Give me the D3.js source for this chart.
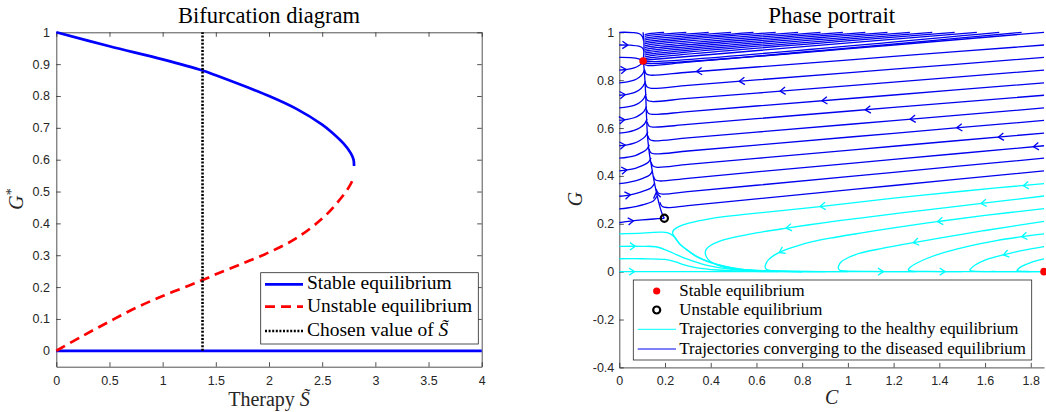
<!DOCTYPE html>
<html><head><meta charset="utf-8">
<script src="https://cdn.jsdelivr.net/npm/d3@7"></script>
<style>body{margin:0;background:#fff}svg{display:block}</style>
</head><body>
<svg id="c" width="1046" height="412"></svg>
<script>
// ---------------- DATA: bifurcation diagram ----------------
const leftXDomain = [0, 4];
const leftYDomain = [-0.05, 1];
const leftXTicks = [0, 0.5, 1, 1.5, 2, 2.5, 3, 3.5, 4];
const leftYTicks = [0, 0.1, 0.2, 0.3, 0.4, 0.5, 0.6, 0.7, 0.8, 0.9, 1];
const stableUpperS = [0, 0.5, 1.0, 1.375, 1.5, 2.0, 2.25, 2.5, 2.6, 2.7, 2.77, 2.795, 2.8];
const stableUpperG = [1.0, 0.956, 0.915, 0.88, 0.865, 0.80, 0.761, 0.71, 0.683, 0.651, 0.62, 0.60, 0.58];
const unstableS = [0, 0.25, 0.5, 0.75, 1.0, 1.25, 1.375, 1.5, 1.75, 2.0, 2.25, 2.5, 2.65, 2.75, 2.8];
const unstableG = [0, 0.047, 0.092, 0.135, 0.172, 0.205, 0.222, 0.24, 0.274, 0.309, 0.352, 0.415, 0.468, 0.513, 0.545];
const stableZeroS = [0, 4];
const stableZeroG = [0, 0];
const chosenS = 1.375;
const chosenG = [0, 1];
const leftLegendLabels = ["Stable equilibrium", "Unstable equilibrium", "Chosen value of "];

// ---------------- DATA: phase portrait ----------------
const rightXDomain = [0, 1.858];
const rightYDomain = [-0.4, 1];
const rightXTicks = [0, 0.2, 0.4, 0.6, 0.8, 1, 1.2, 1.4, 1.6, 1.8];
const rightYTicks = [-0.4, -0.2, 0, 0.2, 0.4, 0.6, 0.8, 1];
const stableEq = [[0.104, 0.88], [1.858, 0]];
const unstableEq = [[0.197, 0.223]];
const rightLegendLabels = ["Stable equilibrium", "Unstable equilibrium",
  "Trajectories converging to the healthy equilibrium",
  "Trajectories converging to the diseased equilibrium"];

// trajectories converging to (0.104, 0.88)
const blueLeft = [
  [[0,0.205],[0.05,0.211],[0.1,0.216],[0.15,0.22],[0.197,0.223]],
  [[0,0.262],[0.035,0.266],[0.07,0.272],[0.11,0.281],[0.15,0.296],[0.164,0.315]],
  [[0,0.315],[0.035,0.319],[0.07,0.326],[0.105,0.336],[0.14,0.351],[0.155,0.37]],
  [[0,0.368],[0.035,0.372],[0.07,0.379],[0.1,0.389],[0.133,0.404],[0.146,0.422]],
  [[0,0.421],[0.035,0.425],[0.07,0.432],[0.098,0.442],[0.127,0.457],[0.139,0.476]],
  [[0,0.474],[0.035,0.478],[0.07,0.485],[0.095,0.496],[0.12,0.511],[0.131,0.53]],
  [[0,0.526],[0.035,0.53],[0.065,0.537],[0.09,0.548],[0.113,0.564],[0.125,0.585]],
  [[0,0.579],[0.035,0.583],[0.065,0.59],[0.09,0.601],[0.11,0.617],[0.121,0.638]],
  [[0,0.632],[0.035,0.636],[0.065,0.643],[0.088,0.654],[0.108,0.67],[0.119,0.69]],
  [[0,0.684],[0.035,0.688],[0.065,0.695],[0.088,0.706],[0.106,0.722],[0.117,0.742]],
  [[0,0.737],[0.035,0.741],[0.065,0.748],[0.087,0.759],[0.104,0.775],[0.115,0.795]],
  [[0,0.789],[0.035,0.793],[0.065,0.8],[0.086,0.811],[0.102,0.826],[0.111,0.845]],
  [[0,0.842],[0.035,0.845],[0.065,0.851],[0.085,0.86],[0.1,0.871],[0.106,0.88]],
  [[0,0.895],[0.05,0.894],[0.085,0.889],[0.104,0.88]],
  [[0,0.947],[0.05,0.946],[0.085,0.942],[0.102,0.934],[0.108,0.92]],
  [[0,1.0],[0.06,0.999],[0.088,0.994],[0.101,0.982],[0.106,0.965]]
];
const blueManifold = [
  [[0.197,0.223],[0.188,0.24],[0.175,0.28],[0.165,0.32],[0.157,0.355],[0.150,0.39],[0.139,0.45],[0.132,0.49],[0.127,0.53],[0.123,0.57],[0.119,0.65],[0.115,0.75],[0.11,0.83],[0.106,0.87],[0.104,0.88]],
  [[0.104,1.0],[0.107,0.97],[0.108,0.94],[0.107,0.91],[0.104,0.88]]
];
const blueRight = [
  [[1.858,0.421],[1.2,0.36],[0.6,0.304],[0.3,0.276],[0.21,0.268],[0.188,0.272],[0.177,0.29]],
  [[1.858,0.474],[1.2,0.415],[0.6,0.361],[0.3,0.334],[0.19,0.324],[0.17,0.329],[0.161,0.345]],
  [[1.858,0.526],[1.2,0.469],[0.6,0.417],[0.3,0.39],[0.175,0.379],[0.157,0.384],[0.149,0.4]],
  [[1.858,0.579],[1.2,0.524],[0.6,0.473],[0.3,0.448],[0.165,0.436],[0.147,0.441],[0.139,0.457]],
  [[1.858,0.632],[1.2,0.578],[0.6,0.529],[0.3,0.504],[0.155,0.492],[0.138,0.497],[0.13,0.513]],
  [[1.858,0.684],[1.2,0.631],[0.6,0.583],[0.3,0.559],[0.15,0.547],[0.133,0.552],[0.125,0.568]],
  [[1.858,0.737],[1.2,0.686],[0.6,0.639],[0.3,0.615],[0.147,0.604],[0.13,0.609],[0.122,0.625]],
  [[1.858,0.789],[1.2,0.738],[0.6,0.692],[0.3,0.669],[0.145,0.657],[0.127,0.662],[0.119,0.678]],
  [[1.858,0.842],[1.2,0.792],[0.6,0.746],[0.3,0.724],[0.14,0.711],[0.123,0.716],[0.116,0.732]],
  [[1.858,0.895],[1.2,0.846],[0.6,0.801],[0.3,0.778],[0.14,0.766],[0.122,0.771],[0.114,0.787]],
  [[1.858,0.947],[1.2,0.899],[0.6,0.855],[0.3,0.833],[0.135,0.821],[0.118,0.826],[0.111,0.842]],
  [[1.858,1.0],[1.2,0.947],[0.6,0.899],[0.3,0.875],[0.125,0.861],[0.11,0.866],[0.105,0.878]]
];
const blueTop = [
  [[0.196,1],[0.13,0.9947],[0.111,0.9907]],
  [[0.293,1],[0.13,0.9870],[0.111,0.9830]],
  [[0.391,1],[0.13,0.9791],[0.111,0.9751]],
  [[0.489,1],[0.13,0.9713],[0.111,0.9673]],
  [[0.587,1],[0.13,0.9634],[0.111,0.9594]],
  [[0.684,1],[0.13,0.9557],[0.111,0.9517]],
  [[0.782,1],[0.13,0.9478],[0.111,0.9438]],
  [[0.880,1],[0.13,0.9400],[0.111,0.9360]],
  [[0.978,1],[0.13,0.9322],[0.111,0.9282]],
  [[1.076,1],[0.13,0.9243],[0.111,0.9203]],
  [[1.173,1],[0.13,0.9166],[0.111,0.9126]],
  [[1.271,1],[0.13,0.9087],[0.111,0.9047]],
  [[1.369,1],[0.13,0.9009],[0.111,0.8969]],
  [[1.467,1],[0.13,0.8930],[0.111,0.8890]],
  [[1.564,1],[0.13,0.8853],[0.111,0.8830]],
  [[1.662,1],[0.13,0.8774],[0.111,0.8800]],
  [[1.760,1],[0.13,0.8696],[0.111,0.8736]]
];
// trajectories converging to (1.858, 0)
const cyanLines = [
  [[0,0],[1.858,0]],
  [[0,0.054],[0.1,0.054],[0.2,0.051],[0.25,0.04],[0.28,0.029],[0.34,0.016],[0.43,0.007],[0.55,0.002],[0.7,0]],
  [[0,0.106],[0.1,0.106],[0.16,0.104],[0.21,0.088],[0.25,0.071],[0.295,0.053],[0.38,0.027],[0.5,0.009],[0.65,0.002],[0.8,0]],
  [[0,0.158],[0.1,0.161],[0.18,0.165],[0.21,0.163],[0.235,0.15],[0.265,0.115],[0.3,0.088],[0.34,0.062],[0.4,0.038],[0.45,0.024],[0.53,0.01],[0.65,0.003],[0.8,0]],
  [[1.858,0.368],[1.5,0.336],[1.2,0.307],[0.878,0.272],[0.537,0.238],[0.4,0.222],[0.304,0.203],[0.26,0.188],[0.237,0.173],[0.233,0.16],[0.242,0.146],[0.265,0.115],[0.3,0.088],[0.34,0.063],[0.4,0.039],[0.45,0.025],[0.53,0.011],[0.65,0.003],[0.8,0]],
  [[1.858,0.316],[1.585,0.285],[1.3,0.253],[1.053,0.224],[0.9,0.205],[0.725,0.181],[0.6,0.162],[0.5,0.143],[0.44,0.128],[0.4,0.11],[0.38,0.093],[0.376,0.078],[0.382,0.06],[0.397,0.043],[0.43,0.027],[0.47,0.016],[0.57,0.005],[0.75,0.001],[1.0,0]],
  [[1.858,0.263],[1.6,0.235],[1.39,0.209],[1.2,0.183],[1.068,0.163],[0.922,0.14],[0.84,0.124],[0.776,0.107],[0.72,0.089],[0.68,0.07],[0.652,0.049],[0.64,0.03],[0.638,0.018],[0.645,0.009],[0.67,0.004],[0.75,0.0015],[0.9,0]],
  [[1.858,0.21],[1.6,0.172],[1.4,0.14],[1.286,0.121],[1.15,0.097],[1.053,0.077],[1.0,0.058],[0.97,0.04],[0.96,0.025],[0.958,0.014],[0.965,0.006],[0.99,0.003],[1.1,0.001],[1.3,0]],
  [[1.858,0.158],[1.76,0.146],[1.65,0.13],[1.534,0.108],[1.43,0.083],[1.345,0.055],[1.3,0.035],[1.272,0.018],[1.264,0.008],[1.275,0.003],[1.35,0.001],[1.5,0]],
  [[1.858,0.105],[1.76,0.088],[1.68,0.07],[1.6,0.048],[1.555,0.027],[1.537,0.012],[1.534,0.006],[1.55,0.002],[1.65,0.0005],[1.8,0]],
  [[1.858,0.053],[1.8,0.038],[1.76,0.022],[1.744,0.01],[1.74,0.005],[1.75,0.002],[1.8,0.0005],[1.858,0]]
];
// arrows: [C, G, dC, dG]
const blueArrows = [
  [0.338,0.836,-1,-0.075],[0.525,0.795,-1,-0.075],[0.703,0.754,-1,-0.076],[0.886,0.714,-1,-0.077],
  [1.076,0.676,-1,-0.078],[1.272,0.637,-1,-0.08],[1.476,0.601,-1,-0.082],[1.658,0.562,-1,-0.084],[1.811,0.522,-1,-0.087],
  [0.037,0.9465,1,-0.02],[0.03,0.8446,1,0.1],[0.026,0.740,1,0.11],[0.023,0.635,1,0.11],
  [0.026,0.529,1,0.11],[0.033,0.425,1,0.12],[0.048,0.3215,1,0.15],[0.062,0.2125,1,0.12],
  [0.161,0.33,-0.2,1]
];
const cyanArrows = [
  [0.066,0,1,0],[1.155,0,1,0],[1.425,0,1,0],[0.07,0.106,1,0],
  [1.767,0.359,-1,-0.09],[0.878,0.272,-1,-0.1],
  [1.582,0.285,-1,-0.11],[0.73,0.182,-1,-0.15],
  [1.392,0.209,-1,-0.13],[0.70,0.08,-1,-0.5],
  [1.286,0.121,-1,-0.19],[1.76,0.146,-1,-0.15],[1.68,0.07,-1,-0.25]
];

// ---------------- DRAWING ----------------
const svg = d3.select("#c");
const serif = "'Liberation Serif','Times New Roman',serif";
const sans = "'Liberation Sans',Arial,Helvetica,sans-serif";
const axisColor = "#262626", textColor = "#262626";

function styleAxis(g) {
  g.attr("font-family", sans).attr("font-size", 12.5);
  g.selectAll("path.domain").attr("stroke", axisColor).attr("stroke-width", 0.8);
  g.selectAll(".tick line").attr("stroke", axisColor).attr("stroke-width", 0.8);
  g.selectAll(".tick text").attr("fill", textColor);
}

// LEFT PANEL
const L = {x0: 56.3, x1: 481.7, y0: 32.3, y1: 366.7};
const xL = d3.scaleLinear().domain(leftXDomain).range([L.x0, L.x1]);
const yL = d3.scaleLinear().domain(leftYDomain).range([L.y1, L.y0]);

svg.append("g").attr("transform", `translate(0,${L.y1})`)
  .call(d3.axisBottom(xL).tickValues(leftXTicks).tickFormat(String).tickSizeInner(-4.5).tickSizeOuter(0).tickPadding(9.4)).call(styleAxis);
svg.append("g").attr("transform", `translate(0,${L.y0})`)
  .call(d3.axisTop(xL).tickValues(leftXTicks).tickFormat("").tickSizeInner(-4.5).tickSizeOuter(0)).call(styleAxis);
svg.append("g").attr("transform", `translate(${L.x0},0)`)
  .call(d3.axisLeft(yL).tickValues(leftYTicks).tickFormat(String).tickSizeInner(-4.5).tickSizeOuter(0).tickPadding(6.3)).call(styleAxis);
svg.append("g").attr("transform", `translate(${L.x1},0)`)
  .call(d3.axisRight(yL).tickValues(leftYTicks).tickFormat("").tickSizeInner(-4.5).tickSizeOuter(0)).call(styleAxis);

const lineL = d3.line().x(d => xL(d[0])).y(d => yL(d[1]));
const zipL = (a, b) => a.map((v, i) => [v, b[i]]);
svg.append("path").datum(zipL(stableZeroS, stableZeroG)).attr("d", lineL)
  .attr("fill", "none").attr("stroke", "#0000ff").attr("stroke-width", 2.7);
svg.append("path").datum(zipL(stableUpperS, stableUpperG)).attr("d", lineL.curve(d3.curveCatmullRom.alpha(0.5)))
  .attr("fill", "none").attr("stroke", "#0000ff").attr("stroke-width", 2.7);
svg.append("path").datum(zipL(unstableS, unstableG)).attr("d", lineL.curve(d3.curveCatmullRom.alpha(0.5)))
  .attr("fill", "none").attr("stroke", "#ff0000").attr("stroke-width", 2.7).attr("stroke-dasharray", "10,6");
svg.append("path").datum(chosenG.map(g => [chosenS, g])).attr("d", lineL.curve(d3.curveLinear))
  .attr("fill", "none").attr("stroke", "#000").attr("stroke-width", 2.6).attr("stroke-dasharray", "2,1.6");

// left titles / labels
svg.append("text").attr("x", 269).attr("y", 23).attr("text-anchor", "middle")
  .attr("font-family", serif).attr("font-size", 22.5).attr("fill", "#000").text("Bifurcation diagram");
const xlab = svg.append("text").attr("x", 269).attr("y", 406).attr("text-anchor", "middle")
  .attr("font-family", serif).attr("font-size", 20).attr("fill", "#262626");
xlab.append("tspan").text("Therapy ");
xlab.append("tspan").attr("font-style", "italic").text("S\u0303");
const ylab = svg.append("text").attr("transform", "translate(23,199) rotate(-90)").attr("text-anchor", "middle")
  .attr("font-family", serif).attr("font-size", 20).attr("fill", "#262626");
ylab.append("tspan").attr("font-style", "italic").text("G");
ylab.append("tspan").attr("dy", -7).attr("font-size", 14).text("*");

// left legend
const lg = svg.append("g");
lg.append("rect").attr("x", 260.7).attr("y", 272.7).attr("width", 217.6).attr("height", 71.3)
  .attr("fill", "#fff").attr("stroke", axisColor).attr("stroke-width", 0.8);
const legStyles = [
  {stroke: "#0000ff", dash: null, w: 2.7},
  {stroke: "#ff0000", dash: "10,6", w: 2.7},
  {stroke: "#000", dash: "2,1.6", w: 2.6}
];
const legY = [284.3, 306.7, 331];
leftLegendLabels.forEach((lab, i) => {
  lg.append("line").attr("x1", 265).attr("x2", 303).attr("y1", legY[i]).attr("y2", legY[i])
    .attr("stroke", legStyles[i].stroke).attr("stroke-width", legStyles[i].w)
    .attr("stroke-dasharray", legStyles[i].dash);
  const t = lg.append("text").attr("x", 307).attr("y", legY[i] + 5).attr("font-family", serif)
    .attr("font-size", 19.5).attr("fill", "#000").text(lab);
  if (i === 2) t.append("tspan").attr("font-style", "italic").text("S\u0303");
});

// RIGHT PANEL
const R = {x0: 619.3, y0: 32.3, y1: 367.4};
const xR = d3.scaleLinear().domain(rightXDomain).range([R.x0, R.x0 + 1.858 * 228.6]);
const yR = d3.scaleLinear().domain(rightYDomain).range([R.y1, R.y0]);

svg.append("g").attr("transform", `translate(0,${R.y1})`)
  .call(d3.axisBottom(xR).tickValues(rightXTicks).tickFormat(String).tickSizeInner(-4.5).tickSizeOuter(0).tickPadding(9.2)).call(styleAxis);
svg.append("g").attr("transform", `translate(${R.x0},0)`)
  .call(d3.axisLeft(yR).tickValues(rightYTicks).tickFormat(String).tickSizeInner(-4.5).tickSizeOuter(0).tickPadding(5)).call(styleAxis);

const lineR = d3.line().x(d => xR(d[0])).y(d => yR(d[1])).curve(d3.curveCatmullRom.alpha(0.5));
const cyanCol = "#00ffff", blueCol = "#0000ee";
const gT = svg.append("g").attr("fill", "none").attr("stroke-width", 1.3).attr("stroke-linejoin", "round");
gT.selectAll("path.c").data(cyanLines).join("path").attr("class", "c").attr("d", lineR).attr("stroke", cyanCol);
gT.selectAll("path.b").data([...blueTop, ...blueRight, ...blueLeft, ...blueManifold]).join("path")
  .attr("class", "b").attr("d", lineR).attr("stroke", blueCol);

function arrowPath(a) {
  const px = xR(a[0]), py = yR(a[1]);
  let dx = xR(a[0] + a[2]) - xR(a[0]), dy = yR(a[1] + a[3]) - yR(a[1]);
  const n = Math.hypot(dx, dy); dx /= n; dy /= n;
  const len = 6.5, ang = 0.6;
  const c = Math.cos(ang), s = Math.sin(ang);
  const b1x = -(dx * c - dy * s), b1y = -(dx * s + dy * c);
  const b2x = -(dx * c + dy * s), b2y = -(-dx * s + dy * c);
  return `M${px + b1x * len},${py + b1y * len}L${px},${py}L${px + b2x * len},${py + b2y * len}`;
}
gT.selectAll("path.ca").data(cyanArrows).join("path").attr("class", "ca").attr("d", arrowPath).attr("stroke", cyanCol);
gT.selectAll("path.ba").data(blueArrows).join("path").attr("class", "ba").attr("d", arrowPath).attr("stroke", blueCol);

svg.selectAll("circle.se").data(stableEq).join("circle").attr("class", "se")
  .attr("cx", d => xR(d[0])).attr("cy", d => yR(d[1])).attr("r", 3.8).attr("fill", "#ff0000");
svg.selectAll("circle.ue").data(unstableEq).join("circle").attr("class", "ue")
  .attr("cx", d => xR(d[0])).attr("cy", d => yR(d[1])).attr("r", 3.6).attr("fill", "none")
  .attr("stroke", "#000").attr("stroke-width", 2.2);

svg.append("text").attr("x", 831.7).attr("y", 23).attr("text-anchor", "middle")
  .attr("font-family", serif).attr("font-size", 23).attr("fill", "#000").text("Phase portrait");
svg.append("text").attr("x", 831.7).attr("y", 404).attr("text-anchor", "middle")
  .attr("font-family", serif).attr("font-size", 20).attr("font-style", "italic").attr("fill", "#262626").text("C");
svg.append("text").attr("transform", "translate(582,199) rotate(-90)").attr("text-anchor", "middle")
  .attr("font-family", serif).attr("font-size", 20).attr("font-style", "italic").attr("fill", "#262626").text("G");

// right legend
const rg = svg.append("g");
rg.append("rect").attr("x", 633.3).attr("y", 280).attr("width", 398.4).attr("height", 80)
  .attr("fill", "#fff").attr("stroke", axisColor).attr("stroke-width", 0.8);
const rY = [291, 310, 329.3, 349];
rg.append("circle").attr("cx", 656.7).attr("cy", rY[0]).attr("r", 3.6).attr("fill", "#ff0000");
rg.append("circle").attr("cx", 656.7).attr("cy", rY[1]).attr("r", 3.5).attr("fill", "none").attr("stroke", "#000").attr("stroke-width", 2.2);
rg.append("line").attr("x1", 637.7).attr("x2", 676).attr("y1", rY[2]).attr("y2", rY[2]).attr("stroke", cyanCol).attr("stroke-width", 1);
rg.append("line").attr("x1", 637.7).attr("x2", 676).attr("y1", rY[3]).attr("y2", rY[3]).attr("stroke", blueCol).attr("stroke-width", 1);
rightLegendLabels.forEach((lab, i) => {
  rg.append("text").attr("x", 679.3).attr("y", rY[i] + 5).attr("font-family", serif)
    .attr("font-size", 16.9).attr("fill", "#000").text(lab);
});
</script></body></html>
